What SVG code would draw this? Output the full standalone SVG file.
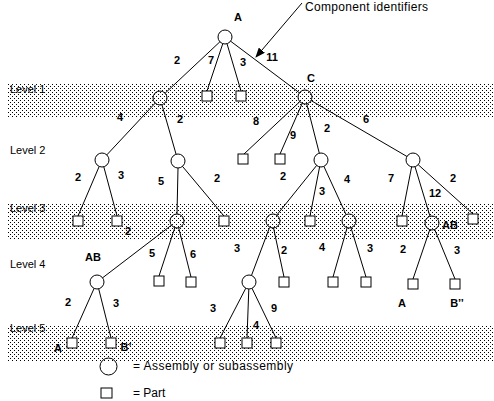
<svg xmlns="http://www.w3.org/2000/svg" width="494" height="401" viewBox="0 0 494 401">
<defs>
<pattern id="dots" width="4" height="4" patternUnits="userSpaceOnUse">
<rect x="0" y="0" width="1" height="1" fill="#000"/>
<rect x="2" y="2" width="1" height="1" fill="#000"/>
</pattern>
<marker id="arr" markerWidth="10" markerHeight="8" refX="9" refY="4" orient="auto" markerUnits="userSpaceOnUse">
<path d="M0,0 L10,4 L0,8 Z" fill="#000"/>
</marker>
</defs>
<style>
.band{fill:url(#dots)}
.e{stroke:#000;stroke-width:1;fill:none}
.c{fill:none;stroke:#000;stroke-width:1}
.s{fill:#fff;stroke:#000;stroke-width:1}
text{font-family:"Liberation Sans",Arial,sans-serif;font-size:11px;fill:#000}
.n{font-weight:bold;text-anchor:middle}
.lv{font-size:11px}
.lg{font-size:12px}
</style>
<rect x="0" y="0" width="494" height="401" fill="#fff"/>
<g id="bands">
<rect class="band" x="7" y="83" width="486" height="35"/>
<rect class="band" x="7" y="203" width="486" height="37"/>
<rect class="band" x="7" y="325" width="486" height="37"/>
</g>
<g id="levels">
<text class="lv" x="10" y="93">Level 1</text>
<text class="lv" x="10" y="154">Level 2</text>
<text class="lv" x="10" y="212">Level 3</text>
<text class="lv" x="10" y="268">Level 4</text>
<text class="lv" x="10" y="332">Level 5</text>
</g>
<g id="connectors">
<line class="e" x1="219.9" y1="41.8" x2="165.1" y2="93.2"/>
<line class="e" x1="222.8" y1="43.6" x2="207" y2="91"/>
<line class="e" x1="227" y1="43.7" x2="241" y2="91"/>
<line class="e" x1="230.6" y1="41.2" x2="299.4" y2="92.8"/>
<line class="e" x1="155.2" y1="103.1" x2="106.8" y2="154.9"/>
<line class="e" x1="161.9" y1="104.7" x2="176.1" y2="154.3"/>
<line class="e" x1="299.8" y1="101.7" x2="244" y2="154"/>
<line class="e" x1="302.2" y1="103.4" x2="280" y2="154"/>
<line class="e" x1="306.7" y1="103.8" x2="319.3" y2="153.2"/>
<line class="e" x1="311" y1="100.5" x2="407" y2="156.5"/>
<line class="e" x1="99.2" y1="166.4" x2="78" y2="216"/>
<line class="e" x1="103.8" y1="166.8" x2="117" y2="216"/>
<line class="e" x1="178" y1="168" x2="177" y2="214"/>
<line class="e" x1="182.5" y1="166.4" x2="224" y2="216"/>
<line class="e" x1="316.6" y1="165.5" x2="276.4" y2="215.5"/>
<line class="e" x1="319.6" y1="166.9" x2="310" y2="216"/>
<line class="e" x1="323.9" y1="166.4" x2="346.1" y2="214.6"/>
<line class="e" x1="411.6" y1="166.9" x2="402" y2="216"/>
<line class="e" x1="415" y1="166.7" x2="430" y2="216.3"/>
<line class="e" x1="418.2" y1="164.7" x2="473" y2="214"/>
<line class="e" x1="171.4" y1="225.2" x2="102.6" y2="277.8"/>
<line class="e" x1="174.8" y1="227.7" x2="159" y2="276"/>
<line class="e" x1="178.7" y1="227.8" x2="191" y2="277"/>
<line class="e" x1="269.5" y1="227.6" x2="251.5" y2="275.4"/>
<line class="e" x1="273.5" y1="227.8" x2="284" y2="277"/>
<line class="e" x1="347.1" y1="227.7" x2="333" y2="277"/>
<line class="e" x1="351" y1="227.7" x2="366" y2="277"/>
<line class="e" x1="429.8" y1="229.6" x2="413" y2="279"/>
<line class="e" x1="434.7" y1="229.5" x2="455" y2="279"/>
<line class="e" x1="94.1" y1="288.4" x2="72" y2="338"/>
<line class="e" x1="98.7" y1="288.8" x2="111" y2="338"/>
<line class="e" x1="245.8" y1="288.2" x2="220" y2="338"/>
<line class="e" x1="248.8" y1="289" x2="247" y2="338"/>
<line class="e" x1="252" y1="288.3" x2="276" y2="338"/>
<line class="e" x1="302" y1="3" x2="256" y2="57" marker-end="url(#arr)"/>
</g>
<g id="nodes">
<g id="nA"><circle class="c" cx="225" cy="37" r="7"/><text class="n" x="238" y="21">A</text></g>
<g id="nL1"><circle class="c" cx="160" cy="98" r="7"/></g>
<g id="nC"><circle class="c" cx="305" cy="97" r="7"/><text class="n" x="311" y="82">C</text></g>
<g id="nL2a"><circle class="c" cx="102" cy="160" r="7"/></g>
<g id="nL2b"><circle class="c" cx="178" cy="161" r="7"/></g>
<g id="nL2c"><circle class="c" cx="321" cy="160" r="7"/></g>
<g id="nL2d"><circle class="c" cx="413" cy="160" r="7"/></g>
<g id="nL3a"><circle class="c" cx="177" cy="221" r="7"/></g>
<g id="nL3b"><circle class="c" cx="273" cy="221" r="7"/></g>
<g id="nL3c"><circle class="c" cx="349" cy="221" r="7"/></g>
<g id="nL3d"><circle class="c" cx="432" cy="223" r="7"/><text class="n" x="450" y="229">AB</text></g>
<g id="nL4a"><circle class="c" cx="97" cy="282" r="7"/><text class="n" x="93" y="261">AB</text></g>
<g id="nL4b"><circle class="c" cx="249" cy="282" r="7"/></g>
<g id="sq1"><rect class="s" x="202" y="91" width="10" height="10"/></g>
<g id="sq2"><rect class="s" x="236" y="91" width="10" height="10"/></g>
<g id="sq3"><rect class="s" x="238" y="154" width="10" height="10"/></g>
<g id="sq4"><rect class="s" x="275" y="154" width="10" height="10"/></g>
<g id="sq5"><rect class="s" x="73" y="216" width="10" height="10"/></g>
<g id="sq6"><rect class="s" x="112" y="216" width="10" height="10"/></g>
<g id="sq7"><rect class="s" x="219" y="216" width="10" height="10"/></g>
<g id="sq8"><rect class="s" x="305" y="216" width="10" height="10"/></g>
<g id="sq9"><rect class="s" x="397" y="216" width="10" height="10"/></g>
<g id="sq10"><rect class="s" x="468" y="214" width="10" height="10"/></g>
<g id="sq11"><rect class="s" x="154" y="276" width="10" height="10"/></g>
<g id="sq12"><rect class="s" x="186" y="277" width="10" height="10"/></g>
<g id="sq13"><rect class="s" x="279" y="277" width="10" height="10"/></g>
<g id="sq14"><rect class="s" x="328" y="277" width="10" height="10"/></g>
<g id="sq15"><rect class="s" x="361" y="277" width="10" height="10"/></g>
<g id="sq16"><rect class="s" x="408" y="279" width="10" height="10"/><text class="n" x="402" y="307">A</text></g>
<g id="sq17"><rect class="s" x="450" y="279" width="10" height="10"/><text class="n" x="457" y="307">B’’</text></g>
<g id="sq18"><rect class="s" x="67" y="338" width="10" height="10"/><text class="n" x="58" y="352">A</text></g>
<g id="sq19"><rect class="s" x="106" y="338" width="10" height="10"/><text class="n" x="126" y="351">B’</text></g>
<g id="sq20"><rect class="s" x="215" y="338" width="10" height="10"/></g>
<g id="sq21"><rect class="s" x="242" y="338" width="10" height="10"/></g>
<g id="sq22"><rect class="s" x="271" y="338" width="10" height="10"/></g>
</g>
<g id="edge-labels">
<text class="n" x="177" y="64">2</text>
<text class="n" x="211" y="64">7</text>
<text class="n" x="243" y="66">3</text>
<text class="n" x="272" y="61">11</text>
<text class="n" x="120" y="121">4</text>
<text class="n" x="180" y="123">2</text>
<text class="n" x="256" y="125">8</text>
<text class="n" x="293" y="139">9</text>
<text class="n" x="327" y="132">2</text>
<text class="n" x="366" y="123">6</text>
<text class="n" x="78" y="181">2</text>
<text class="n" x="121" y="179">3</text>
<text class="n" x="161" y="185">5</text>
<text class="n" x="217" y="182">2</text>
<text class="n" x="283" y="180">2</text>
<text class="n" x="322" y="195">3</text>
<text class="n" x="347" y="183">4</text>
<text class="n" x="391" y="182">7</text>
<text class="n" x="435" y="197">12</text>
<text class="n" x="453" y="182">2</text>
<text class="n" x="128" y="235">2</text>
<text class="n" x="152" y="257">5</text>
<text class="n" x="193" y="258">6</text>
<text class="n" x="237" y="252">3</text>
<text class="n" x="284" y="254">2</text>
<text class="n" x="322" y="251">4</text>
<text class="n" x="370" y="252">3</text>
<text class="n" x="403" y="253">2</text>
<text class="n" x="457" y="254">3</text>
<text class="n" x="68" y="306">2</text>
<text class="n" x="116" y="307">3</text>
<text class="n" x="213" y="312">3</text>
<text class="n" x="274" y="312">9</text>
<text class="n" x="256" y="329">4</text>
</g>
<g id="callout">
<text class="lg" x="305" y="11" textLength="123" lengthAdjust="spacing">Component identifiers</text>
</g>
<g id="legend">
<circle class="c" cx="108.5" cy="366.5" r="8.5"/>
<text class="lg" x="133" y="370" textLength="160" lengthAdjust="spacing">= Assembly or subassembly</text>
<rect class="s" x="101" y="388" width="11" height="10"/>
<text class="lg" x="133" y="397">= Part</text>
</g>
</svg>
